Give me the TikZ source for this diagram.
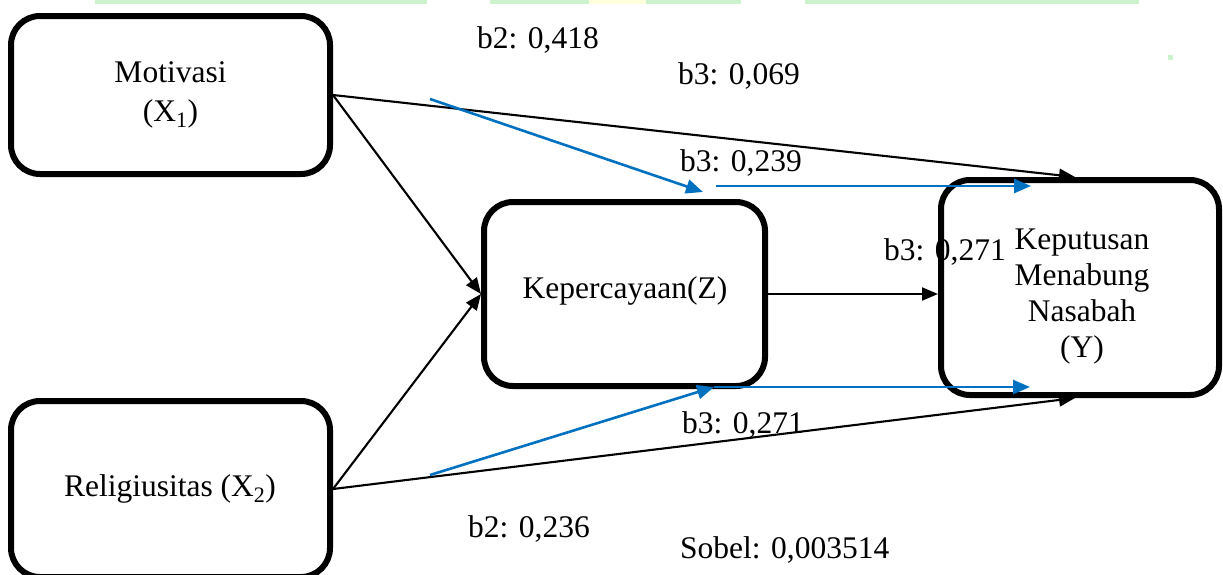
\documentclass[tikz,border=0pt]{standalone}
\usepackage{fontspec}
\setmainfont{Liberation Serif}
\usetikzlibrary{arrows.meta,calc}
\definecolor{pathblue}{RGB}{0,112,192}
\definecolor{bandgreen}{RGB}{204,242,206}
\definecolor{bandyellow}{RGB}{255,255,221}

\begin{document}
\begin{tikzpicture}[x=1pt,y=-1pt,
  font=\fontsize{31.5}{36}\selectfont,
  varbox/.style={draw, line width=6pt, rounded corners=29pt, inner sep=0pt},
  txt/.style={inner sep=0pt, align=center},
  lbl/.style={inner sep=0pt, anchor=base west},
  direct/.style={draw, line width=2.1pt, -{Triangle[length=16pt,width=13pt]}},
  mediated/.style={draw=pathblue, line width=2.6pt, -{Triangle[length=17pt,width=14pt]}}]

\useasboundingbox (0,0) rectangle (1223,574);
\clip (0,0) rectangle (1223,574);

% header bands
\fill[bandgreen] (95,0) rectangle (427,3.5);
\fill[bandgreen] (490,0) rectangle (741,3.5);
\fill[bandyellow] (589,0) rectangle (646,3.5);
\fill[bandgreen] (805,0) rectangle (1139,3.5);
\fill[bandgreen] (1168,55) rectangle (1173,60);

% variables
\node[varbox, minimum width=319pt, minimum height=158pt] (mot) at (170.5,95) {};
\node[txt, font=\fontsize{31.5}{39}\selectfont] (motT) at (170.5,95) {Motivasi\\(X\textsubscript{1})};

\node[varbox, minimum width=319pt, minimum height=176pt] (rel) at (170.5,489) {};
\node[txt] (relT) at (170,489) {Religiusitas (X\textsubscript{2})};

\node[varbox, minimum width=281pt, minimum height=184pt] (kep) at (624.5,294) {};
\node[txt] (kepT) at (625,291) {Kepercayaan(Z)};

\node[varbox, minimum width=278pt, minimum height=215pt] (ybox) at (1080,287.5) {};
\node[txt, font=\fontsize{31.5}{36}\selectfont] (yT) at (1082,296.5) {Keputusan\\Menabung\\Nasabah\\(Y)};

% direct effects
\draw[direct] (mot.east) -- ($(ybox.north)+(-5,0)$);
\draw[direct] (mot.east) -- (kep.west);
\draw[direct] (rel.east) -- (kep.west);
\draw[direct] (rel.east) -- ($(ybox.south)+(-5,0)$);
\draw[direct] (kep.east) -- (kep.east -| ybox.west);

% mediated paths
\coordinate (mA) at (430,99);
\coordinate (mAend) at (703,192);
\coordinate (mB) at (716,186);
\coordinate (mBend) at (1031,186);
\coordinate (rA) at (430,475);
\coordinate (rAend) at (714,387);
\coordinate (rBend) at (1030,387);
\draw[mediated] (mA) -- (mAend);
\draw[mediated] (mB) -- (mBend);
\draw[mediated] (rA) -- (rAend);
\draw[mediated] (rAend) -- (rBend);

% coefficients
\node[lbl] (l1) at (477,48) {b2: 0,418};
\node[lbl] (l2) at (678,84) {b3: 0,069};
\node[lbl] (l3) at (680,171) {b3: 0,239};
\node[lbl] (l4) at (884,260) {b3: 0,271};
\node[lbl] (l5) at (682,433) {b3: 0,271};
\node[lbl] (l6) at (468,537) {b2: 0,236};
\node[lbl] (l7) at (680,558) {Sobel: 0,003514};
\end{tikzpicture}
\end{document}
